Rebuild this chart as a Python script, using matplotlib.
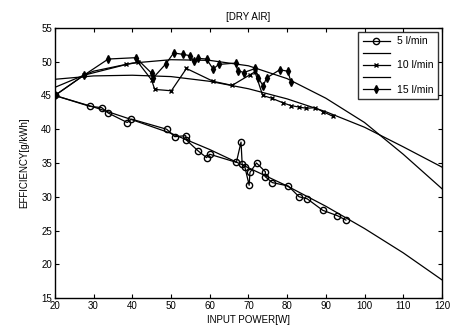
import numpy as np
import matplotlib
matplotlib.use('Agg')
import matplotlib.pyplot as plt

plt.rcParams['font.family'] = ['Liberation Sans', 'DejaVu Sans']

# measured data, 5 l/min
p5 = [20, 29.0, 32.1, 33.8, 38.7, 39.8, 48.9, 51.0, 53.8, 54.0, 57.0, 59.2, 60.0,
      66.9, 68.1, 68.4, 69.1, 70.2, 70.4, 72.1, 74.4, 74.3, 76.2, 80.3, 83.1,
      85.2, 89.2, 93.0, 95.2]
e5 = [45, 43.4, 43.2, 42.4, 41.0, 41.5, 40.0, 38.9, 39.05, 38.4, 36.8, 35.8, 36.3,
      35.1, 38.1, 34.8, 34.4, 31.7, 33.6, 35.0, 33.7, 33.0, 32.1, 31.6, 30.0,
      29.7, 28.0, 27.2, 26.55]

# measured data, 10 l/min
p10 = [20, 27.5, 38.5, 41.5, 45.0, 45.8, 50.1, 54.0, 60.9, 65.8, 70.5, 71.7,
       73.7, 76.0, 79.0, 81.0, 83.0, 85.0, 87.2, 89.3, 91.9]
e10 = [45, 48.0, 49.6, 49.9, 47.3, 45.9, 45.7, 49.0, 47.1, 46.5, 48.1, 48.5,
       45.0, 44.6, 43.9, 43.5, 43.3, 43.1, 43.2, 42.6, 41.9]

# measured data, 15 l/min
p15 = [20, 27.5, 33.8, 40.9, 45.0, 45.4, 48.7, 50.7, 53.0, 54.9, 55.9, 57.0,
       59.2, 60.9, 62.3, 66.7, 67.2, 68.8, 71.8, 72.6, 73.8, 74.7, 78.1, 80.2, 81.0]
e15 = [45, 48.0, 50.4, 50.6, 48.3, 47.6, 49.7, 51.3, 51.1, 50.9, 50.1, 50.5,
       50.4, 48.9, 49.6, 49.8, 48.7, 48.4, 49.0, 47.6, 46.4, 47.6, 48.8, 48.6, 47.0]

# fitted curves
fit_x = [20, 30, 40, 50, 60, 70, 80, 90, 100, 110, 120]
fit5 = [45.0, 43.3, 41.4, 39.4, 37.0, 34.3, 31.6, 28.6, 25.3, 21.7, 17.7]
fit10 = [47.4, 47.9, 48.0, 47.8, 47.1, 46.0, 44.5, 42.6, 40.3, 37.4, 34.4]
fit15 = [46.2, 48.6, 49.8, 50.3, 50.2, 49.4, 47.5, 44.6, 41.0, 36.3, 31.2]

fig = plt.figure(figsize=(4.57, 3.29), dpi=100)
ax = fig.add_axes([0.120, 0.094, 0.847, 0.821])

lw = 0.9
ax.plot(p5, e5, '-o', color='k', lw=lw, ms=4.5, mfc='none', mew=1.0, label='5 l/min')
ax.plot(fit_x, fit5, '-', color='k', lw=lw, label=' ')
ax.plot(p10, e10, '-x', color='k', lw=lw, ms=3, mew=1.0, label='10 l/min')
ax.plot(fit_x, fit10, '-', color='k', lw=lw, label='  ')
ax.plot(p15, e15, '-d', color='k', lw=lw, ms=4, mfc='k', label='15 l/min')
ax.plot(fit_x, fit15, '-', color='k', lw=lw)

ax.set_xlim(20, 120)
ax.set_ylim(15, 55)
ax.set_xticks(np.arange(20, 121, 10))
ax.set_yticks(np.arange(15, 56, 5))
ax.tick_params(direction='in', top=True, right=True, length=3, width=0.8,
               labelsize=7, pad=2)
for s in ax.spines.values():
    s.set_linewidth(1.0)

ax.set_title('[DRY AIR]', fontsize=7, pad=6)
ax.set_xlabel('INPUT POWER[W]', fontsize=7, labelpad=3)
ax.set_ylabel('EFFICIENCY[g/kWh]', fontsize=7, labelpad=9)

leg = ax.legend(loc='upper right', fontsize=7.5, frameon=True, fancybox=False,
                edgecolor='k', handlelength=2.6, borderpad=0.45, labelspacing=0.2,
                handletextpad=0.7, borderaxespad=0.35)
leg.get_frame().set_linewidth(1.0)

fig.savefig('out.png', dpi=100)
